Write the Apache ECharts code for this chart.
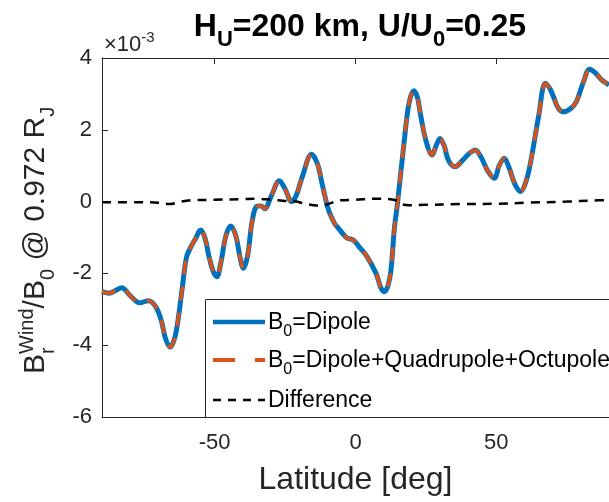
<!DOCTYPE html>
<html>
<head>
<meta charset="UTF-8" />
<title>Br wind</title>
<script src="https://cdn.jsdelivr.net/npm/echarts@6.0.0/dist/echarts.min.js"></script>
<style>
  html, body { margin: 0; padding: 0; background: #fff; }
</style>
</head>
<body>
<div id="main" style="width: 609px; height: 502px"></div>
<script type="text/javascript">
// values, latitude in deg, B in units of 1e-3
const dipole = [
  [-90, -2.51], [-87.5, -2.55], [-85, -2.47], [-83, -2.40], [-80, -2.62], [-76.6, -2.82],
  [-73.5, -2.76], [-71, -2.92], [-69, -3.30], [-67.5, -3.80], [-65.8, -4.06], [-64.2, -3.80],
  [-63, -3.30], [-61.5, -2.40], [-60, -1.55], [-58.5, -1.27], [-56.7, -1.02], [-55, -0.79],
  [-53.5, -1.00], [-52, -1.53], [-50.5, -1.95], [-49.2, -2.09], [-47.8, -1.70], [-46, -0.95],
  [-44.3, -0.68], [-42.5, -0.95], [-41, -1.55], [-39.8, -1.86], [-38.3, -1.50], [-36.8, -0.60],
  [-35.2, -0.14], [-33.5, -0.12], [-32.2, -0.20], [-30, 0.14], [-27, 0.58], [-25, 0.35],
  [-22.7, 0.0], [-21, 0.18], [-18.9, 0.69], [-15.6, 1.32], [-13.5, 1.05], [-11.9, 0.51],
  [-9.6, -0.23], [-7.5, -0.60], [-6.3, -0.72], [-3.1, -1.01], [-0.8, -1.07], [1.5, -1.28],
  [3.8, -1.50], [7.3, -2.00], [9, -2.40], [10.2, -2.51], [11.5, -2.35], [12.6, -1.91],
  [13.8, -0.75], [14.9, -0.05], [17.2, 1.62], [19, 2.74], [20.7, 3.09], [22, 2.90],
  [23, 2.46], [25, 1.70], [27.2, 1.30], [28.6, 1.55], [30, 1.76], [31.5, 1.55],
  [33, 1.15], [35.3, 0.97], [38, 1.15], [40.5, 1.35], [42.5, 1.44], [44.5, 1.25],
  [47, 0.85], [49.3, 0.65], [51, 1.00], [52.8, 1.21], [54.5, 0.95], [56.5, 0.50],
  [58.6, 0.28], [60.5, 0.55], [62.1, 1.07], [65, 2.37], [67.4, 3.30], [69, 3.15],
  [70.3, 2.92], [72, 2.60], [74, 2.50], [76.5, 2.60], [78.4, 2.78], [81, 3.35],
  [83.1, 3.69], [85, 3.60], [87.4, 3.39], [90, 3.25]
];
// the full-multipole curve sits right on top of the dipole one
const multipole = dipole.map(p => p.slice());
const difference = [
  [-90, -0.02], [-75, -0.02], [-70, -0.03], [-66, -0.07], [-62, 0.0], [-58, 0.04],
  [-50, 0.05], [-40, 0.07], [-35, 0.08], [-30, 0.05], [-25, 0.02], [-21, 0.0],
  [-18, -0.06], [-15, -0.10], [-12.5, -0.12], [-9, -0.05], [-6, 0.03], [0, 0.05],
  [7, 0.08], [13, 0.06], [15, 0.02], [17, -0.08], [19, -0.10], [25, -0.09],
  [37, -0.07], [50, -0.06], [61, -0.03], [75, 0.0], [84, 0.03], [90, 0.04]
];
const xTicks = [-50, 0, 50];
const yMin = -6, yMax = 4, yStep = 2;

const axisColor = '#262626';
const fontFam = '"Liberation Sans", Arial, Helvetica, sans-serif';

// measure text so sub/superscript pieces can be laid out by hand
const ctx = document.createElement('canvas').getContext('2d');
const measure = (t, size, bold) => {
  ctx.font = (bold ? 'bold ' : '') + size + 'px ' + fontFam;
  return ctx.measureText(t).width;
};
// pieces: {t, size, dy, bold, stack}; origin is the baseline start
function textRun(pieces, x0, y0, rot, color) {
  let cx = 0;
  const kids = [];
  pieces.forEach(p => {
    kids.push({
      type: 'text',
      z: 100,
      x: cx,
      y: (p.dy || 0) - 0.32 * p.size,
      style: {
        text: p.t, fontSize: p.size, fontFamily: fontFam,
        fontWeight: p.bold ? 'bold' : 'normal',
        fill: color, align: 'left', verticalAlign: 'middle'
      }
    });
    if (!p.stack) cx += measure(p.t, p.size, p.bold);
  });
  return { group: { type: 'group', x: x0, y: y0, rotation: rot || 0, children: kids, z: 100 }, width: cx };
}

const titlePieces = [
  { t: 'H', size: 32, bold: true },
  { t: 'U', size: 22, bold: true, dy: 10 },
  { t: '=200 km, U/U', size: 32, bold: true },
  { t: '0', size: 22, bold: true, dy: 10 },
  { t: '=0.25', size: 32, bold: true }
];
const tw = textRun(titlePieces, 0, 0).width;
const title = textRun(titlePieces, 360 - tw / 2, 37, 0, '#000').group;

const expo = textRun([
  { t: '\u00d710', size: 22 },
  { t: '-3', size: 15, dy: -9 }
], 104, 52, 0, axisColor).group;

const yName = textRun([
  { t: 'B', size: 30 },
  { t: 'r', size: 20, dy: 10, stack: true },
  { t: 'Wind', size: 20, dy: -11 },
  { t: '/B', size: 30 },
  { t: '0', size: 20, dy: 10 },
  { t: ' @ 0.972 R', size: 30 },
  { t: 'J', size: 20, dy: 10 }
], 45, 374, Math.PI / 2, axisColor).group;

// legend box, hand-built so the line icons keep their dashes
const legRows = [
  { y: 322, color: '#0072BD', width: 4.5, dash: null, label: '=Dipole', sub: true },
  { y: 360, color: '#D95319', width: 4, dash: [22, 20], label: '=Dipole+Quadrupole+Octupole', sub: true },
  { y: 400, color: '#000', width: 2.5, dash: [8, 7], label: 'Difference', sub: false }
];
const legend = [{
  type: 'rect', z: 90,
  shape: { x: 205.5, y: 299.5, width: 420, height: 118 },
  style: { fill: '#fff', stroke: axisColor, lineWidth: 1 }
}];
legRows.forEach(r => {
  legend.push({
    type: 'line', z: 95,
    shape: { x1: 213, y1: r.y, x2: 265, y2: r.y },
    style: { stroke: r.color, lineWidth: r.width, lineDash: r.dash }
  });
  const pieces = r.sub
    ? [{ t: 'B', size: 23 }, { t: '0', size: 16, dy: 7 }, { t: r.label, size: 23 }]
    : [{ t: r.label, size: 23 }];
  legend.push(textRun(pieces, 268, r.y + 8, 0, '#000').group);
});

const myChart = echarts.init(document.getElementById('main'), null, { width: 609, height: 502 });

const option = {
  animation: false,
  backgroundColor: '#fff',
  grid: { left: 102, right: -7, top: 58, bottom: 85, containLabel: false },
  xAxis: [{
    type: 'value', min: -90, max: 90,
    name: 'Latitude [deg]', nameLocation: 'middle', nameGap: 47,
    nameTextStyle: { fontSize: 32, color: axisColor, fontFamily: fontFam },
    axisLine: { show: true, onZero: false, lineStyle: { color: axisColor, width: 1 } },
    axisTick: { show: true, inside: true, length: 6, customValues: xTicks, lineStyle: { color: axisColor } },
    axisLabel: { customValues: xTicks, margin: 15, fontSize: 22, color: axisColor, fontFamily: fontFam },
    splitLine: { show: false }
  }, {
    type: 'value', min: -90, max: 90, position: 'top',
    axisLine: { show: true, onZero: false, lineStyle: { color: axisColor, width: 1 } },
    axisTick: { show: true, inside: true, length: 6, customValues: xTicks, lineStyle: { color: axisColor } },
    axisLabel: { show: false },
    splitLine: { show: false }
  }],
  yAxis: {
    type: 'value', min: yMin, max: yMax, interval: yStep,
    axisLine: { show: true, onZero: false, lineStyle: { color: axisColor, width: 1 } },
    axisTick: { show: true, inside: true, length: 6, lineStyle: { color: axisColor } },
    axisLabel: { margin: 10, fontSize: 22, color: axisColor, fontFamily: fontFam },
    splitLine: { show: false }
  },
  series: [
    {
      name: 'B0=Dipole', type: 'line', data: dipole, smooth: 0.35,
      symbol: 'none', lineStyle: { color: '#0072BD', width: 5 }, z: 2
    },
    {
      name: 'B0=Dipole+Quadrupole+Octupole', type: 'line', data: multipole, smooth: 0.35,
      symbol: 'none', lineStyle: { color: '#D95319', width: 3.5, type: [14, 12] }, z: 3
    },
    {
      name: 'Difference', type: 'line', data: difference, smooth: 0.35,
      symbol: 'none', lineStyle: { color: '#000', width: 2.5, type: [9, 7] }, z: 4
    }
  ],
  graphic: [title, expo, yName].concat(legend)
};

myChart.setOption(option);
</script>
</body>
</html>
